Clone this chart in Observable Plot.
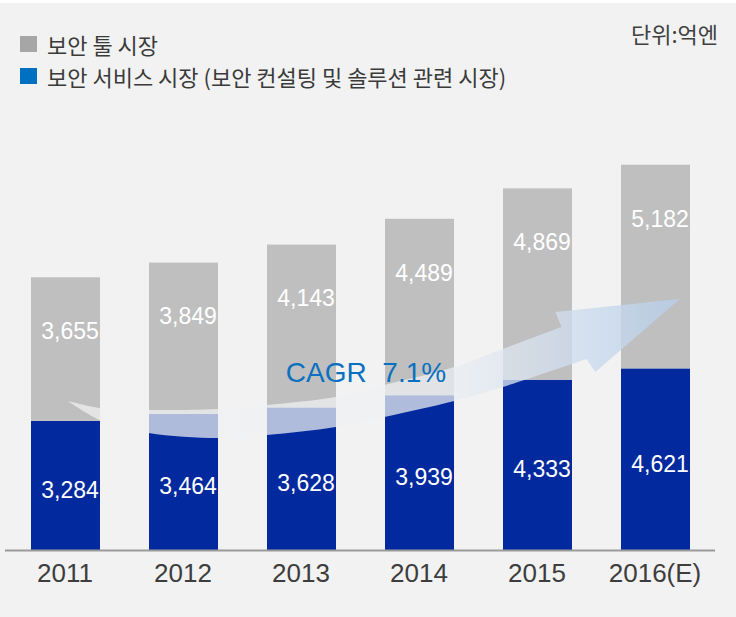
<!DOCTYPE html>
<html>
<head>
<meta charset="utf-8">
<script src="https://cdn.jsdelivr.net/npm/d3@7"></script>
<script src="https://cdn.jsdelivr.net/npm/@observablehq/plot@0.6"></script>
<style>
  html, body { margin: 0; padding: 0; background: #ffffff; }
  #wrap { position: relative; width: 736px; height: 617px; overflow: hidden; }
  #chart { position: absolute; left: 0; top: 3px; }
  #chart svg { display: block; }
  .lg { position: absolute; font-family: "Noto Sans CJK KR", "Noto Sans", sans-serif; color: #3a3a3a; white-space: nowrap; }
  .sw { position: absolute; width: 17px; height: 16px; }
</style>
</head>
<body>
<div id="wrap">
  <div id="chart"></div>
</div>
<script>
// ---- data ----
const years = ["2011", "2012", "2013", "2014", "2015", "2016(E)"];
const toolMarket = [3655, 3849, 4143, 4489, 4869, 5182];      // 보안 툴 시장 (gray, top)
const serviceMarket = [3284, 3464, 3628, 3939, 4333, 4621];   // 보안 서비스 시장 (blue, bottom)
const legendLabels = ["보안 툴 시장", "보안 서비스 시장 (보안 컨설팅 및 솔루션 관련 시장)"];
const unitLabel = "단위:억엔";
const cagrLabel = "CAGR\u00a0\u00a07.1%";

// decorative growth arrow, in (slot offset from first bar, value) units
const arrowUpper = [[0.021, 3791], [0.291, 3613], [0.704, 3562], [1.294, 3588], [1.707, 3690],
                    [2.289, 3893], [2.702, 4198], [3.293, 4656], [3.706, 5115], [4.203, 5674]];
const arrowHead = [[4.153, 6056], [5.206, 6387], [4.490, 4529], [4.414, 4860]];
const arrowLower = [[4.414, 4860], [3.706, 4148], [3.293, 3791], [2.702, 3384], [2.289, 3130],
                    [1.707, 2926], [1.294, 2850], [0.704, 2977], [0.308, 3282], [0.021, 3791]];

const rows = years.map((year, i) => ({
  year,
  service: serviceMarket[i],
  tool: toolMarket[i],
  total: serviceMarket[i] + toolMarket[i]
}));

const fmt = d3.format(",");
const GRAY = "#bfbfbf";
const BLUE = "#022a9e";

function arrowMark(index, scales) {
  const x = scales.x, y = scales.y;
  const bw = x.bandwidth ? x.bandwidth() : 69;
  const c0 = x(years[0]) + bw / 2;
  const step = x(years[1]) - x(years[0]);
  const P = ([u, v]) => [c0 + u * step, y(v)];
  const curve = d3.line().curve(d3.curveCatmullRom.alpha(0.5));
  const up = curve(arrowUpper.map(P));
  const low = curve(arrowLower.map(P)).replace(/^M/, "L");
  const head = arrowHead.map(p => "L" + P(p).join(",")).join("");
  const d = up + head + low + "Z";
  const g = d3.create("svg:g");
  const grad = g.append("defs").append("linearGradient")
    .attr("id", "arrowGrad").attr("gradientUnits", "userSpaceOnUse")
    .attr("x1", P(arrowUpper[0])[0]).attr("y1", 0)
    .attr("x2", P(arrowHead[1])[0]).attr("y2", 0);
  grad.append("stop").attr("offset", 0).attr("stop-color", "rgb(242,242,242)").attr("stop-opacity", 0.72);
  grad.append("stop").attr("offset", 0.6).attr("stop-color", "rgb(238,240,243)").attr("stop-opacity", 0.74);
  grad.append("stop").attr("offset", 1).attr("stop-color", "rgb(183,206,234)").attr("stop-opacity", 0.82);
  g.append("path").attr("d", d).attr("fill", "url(#arrowGrad)");
  return g.node();
}

const plot = Plot.plot({
  width: 736,
  height: 614,
  marginTop: 154,
  marginBottom: 67,
  marginLeft: 5,
  marginRight: 21,
  style: { background: "#f2f2f2", fontFamily: "'Liberation Sans', Arial, sans-serif", overflow: "visible" },
  x: { domain: years, paddingInner: 0.418, paddingOuter: 0.2, axis: null },
  y: { domain: [0, 10000], axis: null },
  marks: [
    Plot.barY(rows, { x: "year", y1: 0, y2: "service", fill: BLUE }),
    Plot.barY(rows, { x: "year", y1: "service", y2: "total", fill: GRAY }),
    Plot.ruleY([0], { stroke: "#9a9a9a", strokeWidth: 2 }),
    arrowMark,
    Plot.text(rows, { x: "year", y: d => d.service / 2, dy: 4.5, dx: 4, text: d => fmt(d.service),
                      fill: "white", fontSize: 23 }),
    Plot.text(rows, { x: "year", y: "total", dy: 54, dx: 4, text: d => fmt(d.tool),
                      fill: "white", fontSize: 23 }),
    Plot.text(years, { x: d => d, frameAnchor: "bottom", dy: 31, dx: -1, text: d => d,
                       fill: "#3d3d3d", fontSize: 26 }),
    Plot.text([cagrLabel], { x: () => years[2], y: () => 4517, dx: 64, text: d => d,
                             fill: "#0a70c0", fontSize: 28 })
  ]
});
document.getElementById("chart").appendChild(plot);

// legend and unit (HTML, above the SVG)
const wrap = document.getElementById("wrap");
const legendColors = ["#a6a6a6", "#0070c0"];
const legendTops = [36, 67.5];
legendLabels.forEach((label, i) => {
  const sw = document.createElement("div");
  sw.className = "sw";
  sw.style.left = "20px";
  sw.style.top = legendTops[i] + "px";
  sw.style.background = legendColors[i];
  wrap.appendChild(sw);
  const t = document.createElement("div");
  t.className = "lg";
  t.style.left = "47px";
  t.style.top = (legendTops[i] + 8 - 14) + "px";
  t.style.lineHeight = "28px";
  t.style.fontSize = "22px";
  t.textContent = label;
  wrap.appendChild(t);
});
const u = document.createElement("div");
u.className = "lg";
u.style.right = "18px";
u.style.top = "19px";
u.style.lineHeight = "28px";
u.style.fontSize = "22px";
u.style.color = "#404040";
u.textContent = unitLabel;
wrap.appendChild(u);
</script>
</body>
</html>
